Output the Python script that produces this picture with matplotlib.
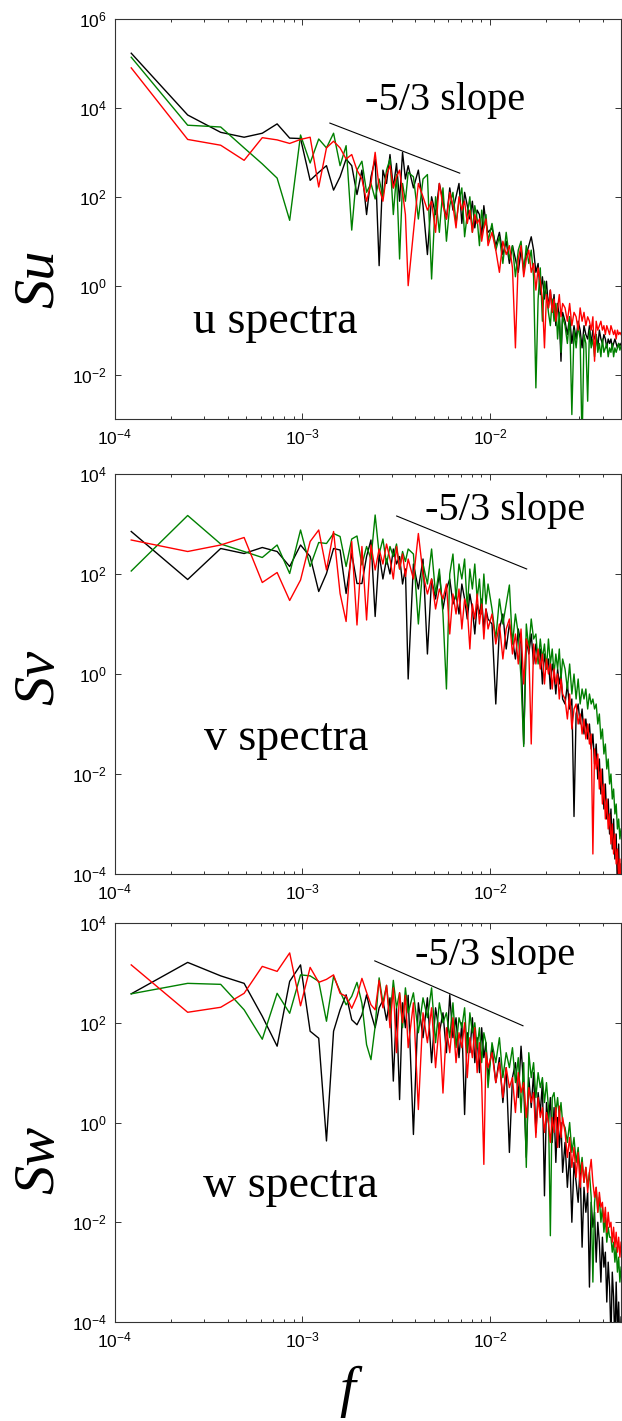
import numpy as np
import matplotlib
matplotlib.use("Agg")
import matplotlib.pyplot as plt
from matplotlib.ticker import FixedLocator, NullLocator, LogLocator

plt.rcParams['font.family'] = ['Liberation Sans', 'DejaVu Sans']
plt.rcParams['mathtext.fontset'] = 'custom'
plt.rcParams['mathtext.rm'] = 'Liberation Sans'
plt.rcParams['mathtext.it'] = 'Liberation Sans:italic'

# frequency bins (k / 8192), thinned at higher frequencies
freq_index = np.r_[1:31, 32:81:2, 84:201:4, 206:411:6]
freq_res = 1.0 / 8192

# spectra, log10 values
u_black = [5.23, 3.84, 3.45, 3.34, 3.43, 3.64, 3.32, 3.31, 2.37, 2.55,
           2.70, 2.15, 2.45, 2.85, 2.70, 2.05, 2.60, 1.60, 2.45, 2.85,
           0.45, 2.60, 2.30, 2.95, 2.20, 2.75, 1.90, 3.00, 2.40, 2.70,
           2.20, 2.60, 1.80, 0.70, 2.00, 1.60, 2.30, 1.90, 1.50, 2.20,
           1.70, 2.00, 2.30, 1.40, 2.10, 1.80, 1.50, 1.90, 1.30, 1.70,
           1.60, 1.10, 1.80, 1.40, 1.20,
           1.30, 0.90, 1.20, 0.70, 1.00, 0.50, 0.90, 0.60, 0.30, 0.80,
           0.40, 0.70, 0.90, 1.10, 0.80, 0.30, 0.50, -0.20, 0.20, -0.30,
           0.10, -0.50, -0.10, -0.60, -0.20, -0.90, -0.40, -0.70, -1.70, -0.60,
           -0.80, -1.10, -0.70, -1.30, -0.90, -1.20, -0.80, -1.00, -1.40, -0.90,
           -1.10, -1.20, -0.90, -1.30, -1.00, -1.20, -1.10, -1.40, -1.00, -1.20,
           -1.30, -1.10, -1.20, -1.40, -1.20, -1.30, -1.20, -1.40, -1.30, -1.20,
           -1.30, -1.40, -1.30, -1.35, -1.30]
u_green = [5.14, 3.61, 3.57, 3.10, 2.74, 2.42, 1.47, 3.39, 2.76, 3.30,
           3.10, 3.43, 2.70, 3.15, 1.25, 2.60, 2.80, 2.10, 2.30, 1.95,
           2.40, 2.00, 2.60, 2.85, 1.60, 2.50, 0.60, 2.30, 1.90, 2.55,
           2.45, 1.50, 2.40, 2.50, 0.15, 2.00, 1.20, 2.20, 1.00, 1.80,
           2.10, 1.40, 1.90, 2.20, 1.10, 1.60, 2.00, 1.20, 1.80, 1.50,
           0.90, 1.70, 1.30, 1.60, 1.00,
           1.40, 0.80, 1.10, 0.50, 1.20, 0.60, 0.90, 0.20, 0.80, 1.00,
           0.30, 0.90, 0.50, 0.80, 0.20, -2.30, -0.30, 0.40, -0.80, 0.10,
           -0.20, -0.60, -0.90, -0.30, -0.80, -0.40, -1.20, -0.60, -1.50, -0.70,
           -0.90, -1.30, -0.70, -2.90, -1.00, -1.40, -0.90, -1.20, -3.60, -1.10,
           -1.30, -2.60, -1.00, -1.40, -1.20, -1.60, -1.10, -1.50, -1.30, -1.60,
           -1.20, -1.50, -1.40, -1.30, -1.60, -1.40, -1.50, -1.30, -1.60, -1.40,
           -1.50, -1.40, -1.30, -1.45, -1.35]
u_red = [4.90, 3.29, 3.16, 2.82, 3.33, 3.28, 3.20, 3.29, 3.34, 2.22,
         3.10, 3.25, 3.10, 2.85, 2.95, 2.60, 2.40, 1.90, 2.30, 3.00,
         2.20, 1.90, 2.50, 2.70, 2.20, 2.45, 2.60, 2.10, 1.60, 0.00,
         1.20, 2.30, 2.00, 1.70, 1.90, 1.20, 2.30, 1.80, 1.50, 2.10,
         1.80, 1.30, 2.00, 1.70, 1.90, 1.40, 1.70, 1.20, 1.60, 1.40,
         1.50, 1.00, 1.30, 1.50, 0.90,
         1.20, 0.80, 0.30, 1.00, 0.70, 0.90, 0.40, -1.40, 0.60, 0.90,
         0.20, 0.60, 0.80, 0.30, 0.50, -0.10, 0.40, 0.10, -0.30, -1.40,
         -0.20, -0.50, -0.10, -0.60, -0.30, -0.80, -0.50, -0.20, -0.70, -0.40,
         -0.50, -0.80, -0.40, -0.90, -0.60, -0.70, -1.00, -0.50, -0.80, -0.60,
         -0.90, -0.70, -0.80, -1.00, -0.70, -1.70, -0.80, -1.00, -0.90, -0.80,
         -1.00, -0.90, -1.10, -0.90, -1.00, -1.10, -0.90, -1.00, -1.10, -1.00,
         -1.20, -1.00, -1.10, -1.05, -1.10]

v_black = [2.85, 1.89, 2.51, 2.41, 2.53, 2.45, 2.15, 2.58, 2.35, 1.65,
           2.01, 2.51, 2.48, 1.61, 2.41, 1.81, 1.81, 2.35, 2.68, 1.15,
           2.40, 1.90, 2.30, 2.00, 2.50, 2.20, 2.35, 1.80, 2.10, -0.10,
           2.20, 1.70, 2.30, 0.40, 1.90, 1.50, 2.00, 1.30, 1.70, 1.90,
           1.40, 1.60, 1.20, 1.80, 1.50, 1.10, 1.60, 1.30, 0.80, 1.40,
           1.20, 1.50, 0.90, 1.30, 1.10,
           1.00, -0.60, 0.90, 1.20, 0.50, 1.00, 0.70, 0.30, 0.90, 0.60,
           -1.40, 0.70, 0.40, 0.80, 0.20, 0.60, 0.30, 0.50, -0.20, 0.40,
           0.10, 0.30, -0.30, 0.20, 0.00, -0.40, 0.10, -0.20, 0.00, -0.50,
           -0.60, -0.20, -0.70, -0.50, -2.85, -0.80, -0.60, -1.00, -0.70, -1.20,
           -0.90, -1.30, -1.00, -1.50, -1.20, -1.80, -1.40, -2.10, -1.70, -2.40,
           -1.90, -2.70, -2.20, -2.90, -2.50, -3.20, -2.70, -3.50, -2.90, -3.70,
           -3.20, -4.30, -3.40, -4.50, -3.80]
v_green = [2.06, 3.17, 2.60, 2.45, 2.33, 2.58, 2.01, 2.88, 2.15, 2.63,
           2.61, 2.81, 2.75, 2.15, 2.70, 2.76, 2.18, 2.55, 2.30, 3.18,
           2.40, 2.70, 2.20, 2.55, 2.35, 2.60, 2.10, 2.45, 2.25, 2.50,
           2.40, 1.00, 2.20, 1.80, 2.50, 1.60, 2.10, 1.20, -0.30, 2.00,
           2.40, 1.50, 2.20, 1.90, 2.30, 1.30, 2.10, 1.70, 2.20, 1.50,
           1.90, 1.20, 2.00, 1.40, 1.80,
           1.30, 0.70, 1.50, 1.00, 1.40, 1.78, 0.60, 1.20, 0.80, -0.10,
           -1.45, 1.00, 0.50, 1.10, 0.70, 0.80, 0.20, 0.70, 0.30, 0.60,
           0.10, 0.70, 0.20, 0.50, 0.00, 0.40, 0.10, 0.50, -0.10, 0.30,
           0.10, -0.30, 0.20, -0.40, 0.00, -0.50, -0.10, -0.60, -0.30, -0.50,
           -0.30, -0.70, -0.40, -0.60, -0.50, -0.70, -0.60, -1.00, -0.80, -1.30,
           -1.10, -1.60, -1.40, -1.90, -1.70, -2.20, -2.00, -2.50, -2.30, -2.80,
           -2.60, -3.10, -2.90, -3.30, -3.10]
v_red = [2.68, 2.45, 2.58, 2.73, 1.83, 2.03, 1.47, 1.88, 2.65, 2.88,
         2.08, 2.85, 1.61, 1.05, 2.65, 0.98, 2.55, 1.08, 2.58, 2.08,
         2.50, 2.20, 2.60, 2.30, 1.90, 2.55, 2.10, 2.40, 1.95, 2.30,
         1.90, 2.81, 2.00, 1.60, 1.90, 1.30, 1.70, 1.50, 1.80, 0.80,
         1.60, 1.20, 1.70, 0.90, 1.50, 1.30, 0.50, 1.40, 1.10, 1.60,
         1.00, 1.40, 0.70, 1.30, 0.90,
         1.20, 0.60, 1.00, 0.30, 0.90, 1.10, 0.40, 0.80, 0.20, 0.90,
         -0.20, 0.70, 0.50, -1.40, 0.60, 0.20, 0.50, 0.10, 0.40, -0.20,
         0.30, 0.00, 0.20, -0.30, 0.10, -0.20, 0.00, -0.50, -0.10, -0.40,
         -0.50, -0.90, -0.40, -1.10, -0.70, -0.60, -1.00, -0.80, -1.20, -0.90,
         -1.30, -1.00, -1.40, -1.20, -3.60, -1.50, -1.90, -1.60, -2.30, -1.90,
         -2.60, -2.20, -2.90, -2.50, -3.10, -2.80, -3.40, -3.00, -3.60, -3.20,
         -3.80, -3.50, -4.10, -3.70, -4.40]

w_black = [2.58, 3.21, 2.94, 2.79, 2.13, 1.53, 2.83, 3.16, 1.83, 1.69,
           -0.37, 1.83, 2.26, 2.56, 2.06, 1.96, 2.16, 2.56, 2.19, 1.90,
           2.30, 2.45, 2.05, 2.50, 0.83, 2.30, 0.46, 2.40, 1.90, 2.55,
           -0.24, 2.40, 1.70, 2.50, 1.20, 2.30, 1.80, 2.20, 1.40, 2.56,
           1.70, 2.10, 1.30, 2.00, 0.16, 1.80, 1.40, 2.10, 1.20, 1.70,
           1.00, 1.90, 1.30, 1.60, 0.90,
           1.50, 0.80, 1.30, 0.40, 1.10, -0.60, 0.90, 1.20, 0.50, 1.53,
           0.70, -0.70, 0.90, 0.30, 1.00, -0.20, 0.60, 0.20, 0.80, -1.47,
           0.40, 0.00, 0.50, -0.40, 0.30, -0.80, 0.10, -0.50, 0.00, -1.00,
           -0.40, -1.30, -0.60, -2.00, -0.80, -1.20, -1.60, -0.90, -2.50, -1.30,
           -1.80, -1.40, -3.30, -1.60, -2.10, -1.80, -2.80, -2.00, -2.40, -3.20,
           -2.30, -2.90, -2.60, -3.60, -2.80, -3.30, -4.30, -3.00, -3.50, -4.50,
           -3.20, -4.20, -3.60, -4.60, -3.90]
w_green = [2.58, 2.79, 2.77, 2.26, 1.67, 2.59, 2.19, 2.96, 2.94, 2.83,
           2.03, 2.93, 2.63, 2.36, 2.53, 2.81, 2.39, 1.56, 1.26, 1.93,
           2.90, 2.40, 2.75, 2.10, 2.85, 2.30, 2.60, 1.90, 2.70, 2.20,
           2.60, 1.80, 2.50, 2.10, 2.70, 1.60, 2.40, 2.00, 2.20, 1.70,
           2.40, 1.50, 2.10, 1.90, 2.30, 1.40, 2.20, 1.80, 2.00, 1.50,
           1.90, 1.20, 1.80, 1.60, 0.70,
           1.60, 1.20, 1.70, 0.90, 1.40, 1.10, 1.50, 0.80, 1.30, 0.20,
           1.20, -0.90, 1.40, 0.90, 1.20, 0.50, 1.00, 0.70, 0.90, 0.40,
           0.80, 0.30, -2.27, 0.50, 0.60, 0.20, 0.50, 0.10, 0.40, 0.00,
           -0.10, -0.40, 0.00, -0.60, -0.30, -0.80, -0.50, -1.00, -0.70, -1.20,
           -0.90, -1.30, -1.00, -1.50, -3.20, -1.60, -1.30, -1.80, -1.50, -2.00,
           -1.70, -2.20, -1.90, -2.40, -2.10, -2.30, -2.30, -2.60, -2.40, -2.80,
           -2.50, -3.00, -2.70, -3.20, -2.90]
w_red = [3.16, 2.21, 2.31, 2.59, 3.13, 3.03, 3.40, 2.34, 3.11, 2.81,
         2.87, 2.96, 2.59, 2.53, 2.29, 2.53, 2.89, 2.61, 2.36, 2.26,
         2.85, 2.30, 2.75, 1.90, 2.70, 1.40, 2.60, 2.00, 2.55, 1.50,
         2.40, 0.26, 2.20, 1.60, 2.30, 1.10, 2.00, 0.59, 1.90, 1.40,
         2.10, 1.20, 1.80, 1.50, 2.00, 0.90, 1.70, 1.30, 1.90, 1.00,
         1.60, 0.80, -0.84, 1.40, 1.10,
         1.40, 0.80, 1.20, 0.50, 1.10, 0.70, 0.90, 0.20, 1.00, 0.60,
         0.80, 0.10, 0.70, 0.40, 0.60, -0.30, 0.50, 0.10, 0.30, -0.20,
         0.20, 0.00, -0.40, 0.10, -0.20, 0.30, -0.50, 0.33, -0.30, 0.10,
         -0.20, -0.70, -0.30, -0.90, -0.50, -1.10, -0.60, -1.30, -0.80, -1.20,
         -0.90, -1.40, -1.00, -0.74, -1.20, -1.50, -1.30, -1.80, -1.40, -1.70,
         -1.60, -2.00, -1.70, -2.20, -1.80, -2.10, -2.00, -2.40, -2.10, -2.50,
         -2.20, -2.60, -2.30, -2.70, -2.40]

# -5/3 reference segments: (f start, f end), (S start, S end)
slope_u = ([1.40e-3, 6.9e-3], [4550, 340])
slope_v = ([3.18e-3, 1.57e-2], [1445, 126])
slope_w = ([2.43e-3, 1.50e-2], [1740, 87])

panel_names = ['u spectra', 'v spectra', 'w spectra']
ylabels = ['Su', 'Sv', 'Sw']
ylims = [(1e-3, 1e6), (1e-4, 1e4), (1e-4, 1e4)]
yticks = [[1e-2, 1e0, 1e2, 1e4, 1e6], [1e-4, 1e-2, 1e0, 1e2, 1e4],
          [1e-4, 1e-2, 1e0, 1e2, 1e4]]

series = [(u_black, u_green, u_red), (v_black, v_green, v_red),
          (w_black, w_green, w_red)]
slopes = [slope_u, slope_v, slope_w]

W, H = 622, 1421
fig = plt.figure(figsize=(W / 100, H / 100), dpi=100)

# axes boxes in pixels: top, bottom
boxes = [(19, 419), (474, 874), (923, 1322)]
ax_left, ax_right = 115, 621
# text placement in axes fractions
name_pos = [(0.154, 0.215), (0.176, 0.31), (0.174, 0.313)]
slope_txt = [(0.494, 0.7725), (0.613, 0.885), (0.593, 0.895)]
ylabel_y = [279, 677, 1160]

colors = ['#000000', '#008000', '#ff0000']
freqs = freq_index * freq_res

for i in range(3):
    top, bot = boxes[i]
    ax = fig.add_axes([ax_left / W, 1 - bot / H, (ax_right - ax_left) / W,
                       (bot - top) / H])
    for vals, c in zip(series[i], colors):
        assert len(vals) == len(freqs)
        ax.loglog(freqs, 10 ** np.array(vals), color=c, lw=1.0)
    fs, ss = slopes[i]
    ax.plot(fs, ss, color='black', lw=0.8)
    ax.set_xlim(1e-4, 5e-2)
    ax.set_ylim(*ylims[i])
    ax.yaxis.set_major_locator(FixedLocator(yticks[i]))
    ax.yaxis.set_minor_locator(NullLocator())
    ax.xaxis.set_major_locator(LogLocator(base=10, numticks=10))
    ax.xaxis.set_minor_locator(LogLocator(base=10, subs=np.arange(2, 10), numticks=20))
    ax.tick_params(which='both', direction='in', top=True, right=True,
                   labelsize=12.5, color='#333333', width=0.7)
    ax.tick_params(which='major', length=4.5, pad=6)
    ax.tick_params(which='minor', length=2.5)
    for sp in ax.spines.values():
        sp.set_color('#333333')
        sp.set_linewidth(0.8)
    nx, ny = name_pos[i]
    ax.text(nx, ny, panel_names[i], transform=ax.transAxes, fontsize=33,
            family='Liberation Serif', va='baseline', ha='left')
    sx, sy = slope_txt[i]
    ax.text(sx, sy, '-5/3 slope', transform=ax.transAxes, fontsize=29,
            family='Liberation Serif', va='baseline', ha='left')
    fig.text(39 / W, 1 - ylabel_y[i] / H, ylabels[i], rotation=90,
             fontsize=42, family='Liberation Serif', style='italic',
             ha='center', va='center')

fig.text(347 / W, 1 - 1392 / H, 'f', fontsize=41, family='Liberation Serif',
         style='italic', ha='center', va='center')

fig.savefig('out.png', dpi=100)
